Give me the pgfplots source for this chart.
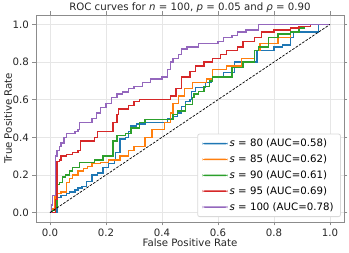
\documentclass[border=0pt]{standalone}
\usepackage{fontspec}
\setmainfont{DejaVu Sans}
\usepackage{pgfplots}
\pgfplotsset{compat=1.18}
\definecolor{tabblue}{HTML}{1F77B4}
\definecolor{taborange}{HTML}{FF7F0E}
\definecolor{tabgreen}{HTML}{2CA02C}
\definecolor{tabred}{HTML}{D62728}
\definecolor{tabpurple}{HTML}{9467BD}
\definecolor{framegray}{HTML}{8C8C8C}
\definecolor{gridgray}{HTML}{E6E6E6}
\newcommand{\fs}{\fontsize{10.2}{12}\selectfont}
\begin{document}
\begin{tikzpicture}[line width=1.4pt]
\begin{axis}[
  scale only axis, width=308pt, height=207pt,
  xmin=-0.05, xmax=1.05, ymin=-0.05, ymax=1.05,
  xtick={0,0.2,0.4,0.6,0.8,1.0}, ytick={0,0.2,0.4,0.6,0.8,1.0},
  grid=major, grid style={gridgray, line width=0.6pt},
  axis line style={framegray, line width=0.8pt},
  tick align=outside, major tick length=3.5pt,
  tick style={framegray, line width=0.8pt},
  tick label style={font=\fs, text=black!85},
  xticklabel style={/pgf/number format/fixed, /pgf/number format/fixed zerofill, /pgf/number format/precision=1, /pgf/number format/assume math mode=true},
  yticklabel style={/pgf/number format/fixed, /pgf/number format/fixed zerofill, /pgf/number format/precision=1, /pgf/number format/assume math mode=true},
  xlabel={False Positive Rate}, ylabel={True Positive Rate},
  every axis x label/.style={at={(axis description cs:0.5,-0.1014)}, anchor=center, font=\fs, text=black!85},
  every axis y label/.style={at={(axis description cs:-0.0909,0.5)}, anchor=center, rotate=90, font=\fs, text=black!85},
  title={ROC curves for \textit{n} = 100, \textit{p} = 0.05 and \textit{ρ} = 0.90},
  every axis title/.style={at={(axis description cs:0.5,1.036)}, anchor=center, font=\fs, text=black!85},
  legend style={at={(axis description cs:0.99,0.024)}, anchor=south east, draw=gray!30, line width=0.8pt, rounded corners=2pt, fill=white, font=\fs, row sep=2.6pt, inner xsep=5pt, inner ysep=3pt},
  legend cell align=left,
  legend image code/.code={\fill[#1, draw=none] (2pt,-0.75pt) rectangle (27pt,0.75pt);},
  every axis plot/.append style={line width=1.4pt},
]
\addplot[color=tabblue, const plot] coordinates {(0,0)(0.02,0)(0.025,0.08)(0.04,0.09)(0.06,0.1)(0.07,0.11)(0.09,0.12)(0.1,0.13)(0.115,0.14)(0.13,0.165)(0.15,0.2)(0.17,0.21)(0.19,0.24)(0.21,0.26)(0.23,0.28)(0.235,0.32)(0.25,0.39)(0.27,0.4)(0.28,0.43)(0.29,0.46)(0.31,0.47)(0.34,0.48)(0.42,0.5)(0.44,0.51)(0.455,0.53)(0.47,0.565)(0.485,0.59)(0.5,0.6)(0.505,0.645)(0.52,0.665)(0.555,0.69)(0.575,0.71)(0.58,0.72)(0.62,0.745)(0.66,0.8)(0.74,0.86)(0.8,0.88)(0.83,0.89)(0.86,0.93)(0.87,0.96)(0.96,1.0)(1,1)};
\addlegendentry{\textit{s} = 80 (AUC=0.58)}
\addplot[color=taborange, const plot] coordinates {(0,0)(0.01,0.02)(0.018,0.085)(0.025,0.1)(0.04,0.11)(0.06,0.16)(0.07,0.18)(0.08,0.2)(0.1,0.22)(0.12,0.235)(0.135,0.245)(0.15,0.26)(0.18,0.265)(0.21,0.28)(0.25,0.3)(0.28,0.33)(0.3,0.35)(0.34,0.4)(0.365,0.44)(0.41,0.48)(0.43,0.53)(0.44,0.58)(0.46,0.62)(0.48,0.66)(0.51,0.69)(0.56,0.71)(0.58,0.76)(0.63,0.78)(0.685,0.82)(0.73,0.86)(0.75,0.9)(0.815,0.93)(0.86,0.96)(0.89,0.98)(0.91,0.99)(0.93,1.0)(1,1)};
\addlegendentry{\textit{s} = 85 (AUC=0.62)}
\addplot[color=tabgreen, const plot] coordinates {(0,0)(0.01,0.01)(0.02,0.03)(0.025,0.15)(0.035,0.16)(0.045,0.19)(0.055,0.2)(0.07,0.22)(0.08,0.24)(0.105,0.265)(0.16,0.28)(0.19,0.3)(0.225,0.38)(0.24,0.41)(0.27,0.42)(0.29,0.45)(0.32,0.48)(0.34,0.495)(0.44,0.52)(0.455,0.54)(0.485,0.575)(0.51,0.61)(0.515,0.63)(0.53,0.645)(0.55,0.67)(0.57,0.7)(0.58,0.72)(0.65,0.77)(0.69,0.8)(0.73,0.86)(0.745,0.88)(0.78,0.93)(0.815,0.95)(0.86,0.96)(0.89,0.98)(0.91,0.99)(0.93,1.0)(1,1)};
\addlegendentry{\textit{s} = 90 (AUC=0.61)}
\addplot[color=tabred, const plot] coordinates {(0,0)(0.02,0.07)(0.025,0.27)(0.035,0.28)(0.04,0.3)(0.06,0.31)(0.08,0.32)(0.1,0.33)(0.11,0.38)(0.16,0.4)(0.17,0.43)(0.225,0.48)(0.24,0.52)(0.245,0.55)(0.28,0.57)(0.3,0.59)(0.32,0.6)(0.43,0.62)(0.45,0.66)(0.47,0.72)(0.5,0.75)(0.52,0.78)(0.55,0.8)(0.58,0.82)(0.61,0.84)(0.63,0.86)(0.67,0.88)(0.69,0.91)(0.73,0.93)(0.755,0.96)(0.8,0.97)(0.86,0.98)(0.89,0.99)(0.93,1.0)(1,1)};
\addlegendentry{\textit{s} = 95 (AUC=0.69)}
\addplot[color=tabpurple, const plot] coordinates {(0,0)(0.005,0.04)(0.01,0.09)(0.02,0.3)(0.025,0.33)(0.035,0.35)(0.04,0.37)(0.05,0.4)(0.06,0.42)(0.09,0.43)(0.1,0.44)(0.106,0.48)(0.15,0.5)(0.167,0.53)(0.18,0.56)(0.2,0.58)(0.22,0.61)(0.24,0.63)(0.26,0.64)(0.28,0.66)(0.3,0.67)(0.33,0.69)(0.36,0.71)(0.4,0.72)(0.42,0.76)(0.43,0.8)(0.44,0.82)(0.46,0.84)(0.47,0.87)(0.49,0.88)(0.53,0.9)(0.6,0.91)(0.62,0.93)(0.65,0.94)(0.67,0.96)(0.7,0.97)(0.745,1.0)(1,1)};
\addlegendentry{\textit{s} = 100 (AUC=0.78)}
\addplot[black, line width=0.7pt, dash pattern=on 2.6pt off 1.4pt, sharp plot, forget plot] coordinates {(0,0)(1,1)};
\end{axis}
\pgfresetboundingbox
\path (-36pt,-31pt) rectangle (313pt,222pt);
\end{tikzpicture}
\end{document}
